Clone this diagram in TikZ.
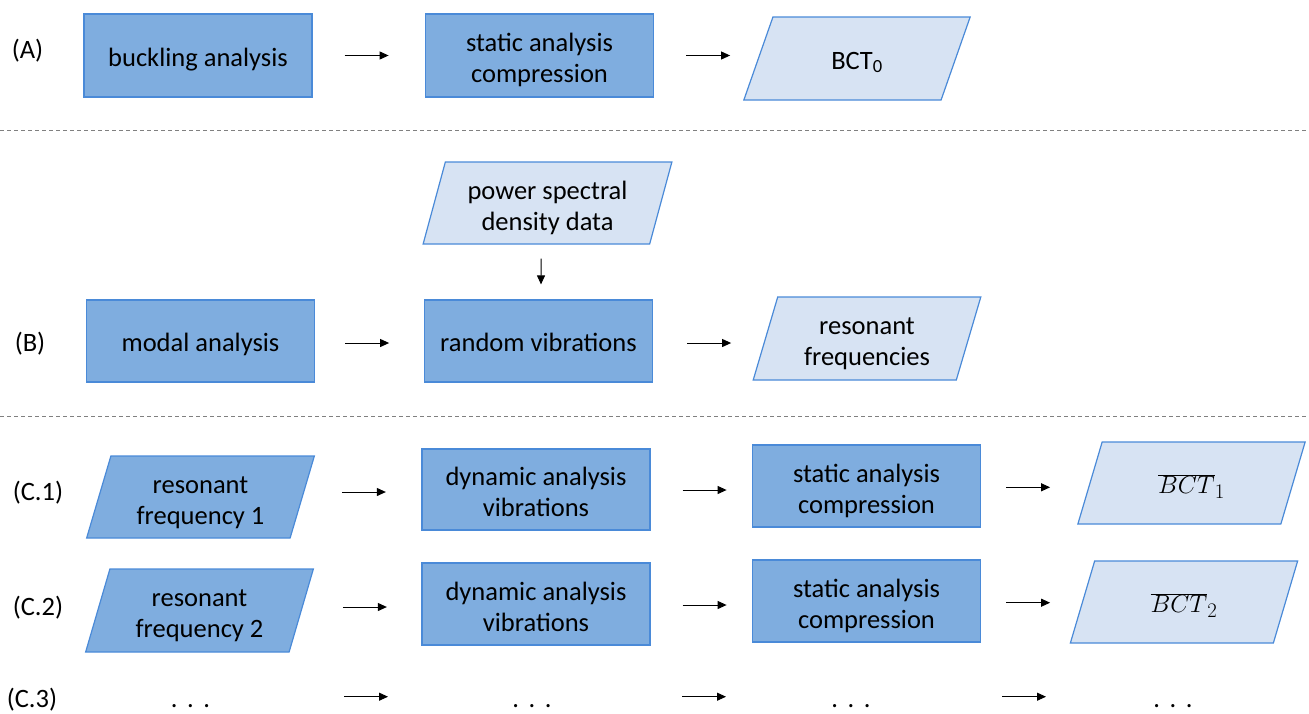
\documentclass[tikz,border=0pt]{standalone}
\usepackage{fontspec}
\setmainfont{Carlito}
\usetikzlibrary{shapes.geometric,arrows.meta}
\definecolor{darkfill}{HTML}{7FADDF}
\definecolor{lightfill}{HTML}{D7E3F3}
\definecolor{edgeblue}{HTML}{4A8AD8}
\tikzset{
  base/.style={font=\fontsize{26.5}{31}\selectfont, align=center, text=black, inner sep=2pt,
    execute at begin node={\rule{0pt}{28pt}}, execute at end node={\rule[-6.5pt]{0pt}{6.5pt}}},
  procbox/.style={base, rectangle, draw=edgeblue, line width=1.2pt, fill=darkfill, minimum width=228pt, minimum height=82pt},
  databox/.style={base, trapezium, trapezium left angle=76, trapezium right angle=104, trapezium stretches=true, draw=edgeblue, line width=1.2pt, fill=#1, minimum width=228pt, minimum height=82pt},
  databox/.default=lightfill,
  rowlabel/.style={base},
  arr/.style={draw=black, line width=1pt, -{Triangle[length=9pt,width=8pt]}},
  sep/.style={draw=gray, line width=0.8pt, dash pattern=on 4pt off 3pt},
  dots/.style={base}
}
\newcommand{\mydots}{.\hspace{9.5pt}.\hspace{9.5pt}.}
\newcommand{\up}{\rule{0pt}{30pt}}
\newcommand{\bctbar}[1]{{\fontsize{29}{31}\selectfont$\overline{BCT}_{#1}$}}
\begin{document}
\begin{tikzpicture}[x=1pt,y=-1pt]
\useasboundingbox (0,0) rectangle (1309,713);
% row labels
\node[rowlabel] (lA) at (27.5,47.5) {(A)};
\node[rowlabel] (lB) at (30,340.5) {(B)};
\node[rowlabel] (lC1) at (38,489.5) {(C.1)};
\node[rowlabel] (lC2) at (38,604.5) {(C.2)};
\node[rowlabel] (lC3) at (32,697) {(C.3)};
% separators
\coordinate (s1a) at (0,130); \coordinate (s1b) at (1309,130);
\coordinate (s2a) at (0,416); \coordinate (s2b) at (1309,416);
\draw[sep] (s1a) -- (s1b);
\draw[sep] (s2a) -- (s2b);
% row A
\node[procbox, minimum height=83pt] (buck) at (198,55.5) {buckling analysis};
\node[procbox, minimum height=83pt] (statA) at (539.5,55.5) {\up static analysis\\compression};
\node[databox, minimum height=83pt] (bct0) at (857,58.5) {BCT\textsubscript{0}};
\draw[arr] ([xshift=32pt]buck.east) -- ++(44,0);
\draw[arr] ([xshift=32pt]statA.east) -- ++(44,0);
% row B
\node[databox, minimum width=249pt] (psd) at (547.5,203) {\up power spectral\\density data};
\node[procbox] (modal) at (200.5,341) {modal analysis};
\node[procbox] (rv) at (538.5,341) {random vibrations};
\node[databox, minimum height=83pt] (resf) at (867,338.5) {\up resonant\\frequencies};
\draw[arr] ([xshift=-6.5pt,yshift=-14pt]psd.south) -- ([xshift=2.5pt,yshift=15pt]rv.north);
\draw[arr] ([xshift=30pt,yshift=-2pt]modal.east) -- ++(44,0);
\draw[arr] ([xshift=34pt,yshift=-2pt]rv.east) -- ++(44,0);
% row C.1
\node[databox=darkfill] (rf1) at (200.5,497) {\up resonant\\frequency 1};
\node[procbox, minimum height=81pt] (dyn1) at (536,489.5) {\up dynamic analysis\\vibrations};
\node[procbox] (st1) at (866.5,486) {\up static analysis\\compression};
\node[databox] (bct1) at (1191.5,483) {\bctbar{1}};
\draw[arr] ([xshift=39pt,yshift=5pt]rf1.east) -- ++(44,0);
\draw[arr] ([xshift=32pt,yshift=-0.5pt]dyn1.east) -- ++(44,0);
\draw[arr] ([xshift=25pt,yshift=-1.3pt]st1.east) -- ++(44,0);
% row C.2
\node[databox=darkfill, minimum height=83pt] (rf2) at (199.5,610.5) {\up resonant\\frequency 2};
\node[procbox] (dyn2) at (536,604) {\up dynamic analysis\\vibrations};
\node[procbox] (st2) at (866.5,601) {\up static analysis\\compression};
\node[databox] (bct2) at (1184,602) {\bctbar{2}};
\draw[arr] ([xshift=41pt,yshift=3.5pt]rf2.east) -- ++(44,0);
\draw[arr] ([xshift=32pt,yshift=-1pt]dyn2.east) -- ++(44,0);
\draw[arr] ([xshift=25pt,yshift=-1.7pt]st2.east) -- ++(44,0);
% row C.3
\node[dots] (d1) at (190.5,696.7) {\mydots};
\node[dots] (d2) at (532,696.7) {\mydots};
\node[dots] (d3) at (851,696.7) {\mydots};
\node[dots] (d4) at (1173,696.7) {\mydots};
\draw[arr] ([xshift=153.5pt]d1.center) -- ++(44,0);
\draw[arr] ([xshift=150pt]d2.center) -- ++(44,0);
\draw[arr] ([xshift=151pt]d3.center) -- ++(44,0);
\end{tikzpicture}
\end{document}
